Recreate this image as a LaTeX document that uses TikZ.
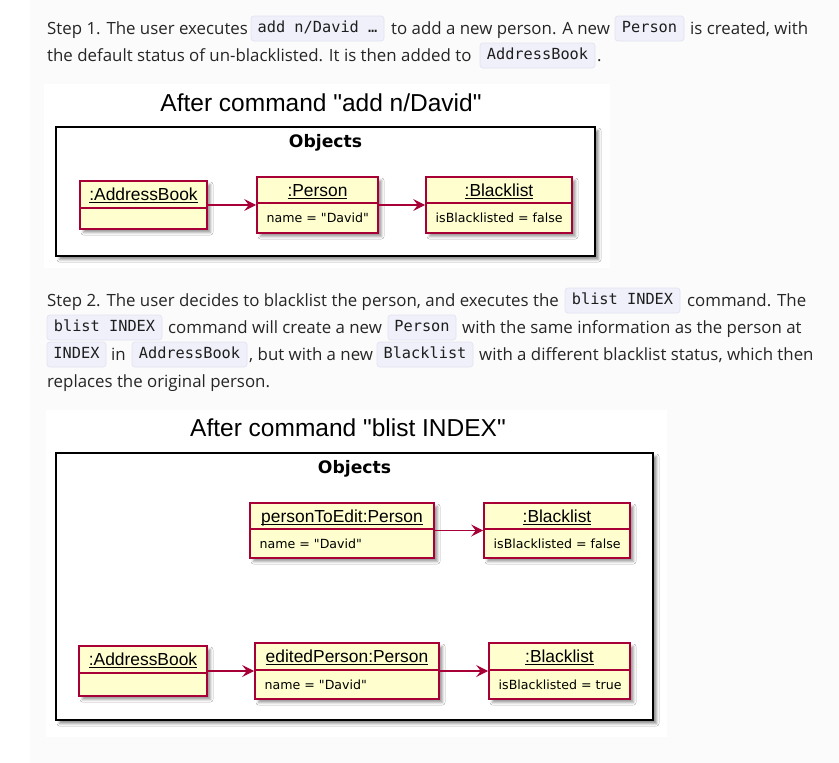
\documentclass[tikz,border=0pt]{standalone}
\usepackage{fontspec}
\setmainfont{Open Sans}
\newfontfamily\codefont{DejaVu Sans Mono}
\newfontfamily\umlfont{Liberation Sans}
\newfontfamily\umlsmall{DejaVu Sans}
\usetikzlibrary{arrows.meta,shadows.blur}
\definecolor{umlfill}{HTML}{FEFECE}
\definecolor{umlline}{HTML}{A80036}
\definecolor{codebg}{HTML}{EFF0FA}
\definecolor{codeborder}{HTML}{E2E4F2}
\definecolor{txt}{HTML}{262626}
\definecolor{codetxt}{HTML}{1E1E1E}
\definecolor{pagebg}{HTML}{FBFBFB}
\newcommand{\umlul}[1]{\setbox0\hbox{#1}\copy0\llap{\rule[-2.2pt]{\wd0}{0.9pt}}}
\newcommand{\umlobj}[8]{%
  \node[umlbox, minimum width={(#4-#2)*1pt}, minimum height={(#5-#3)*1pt}] (#1) at ({(#2+#4)/2},{(#3+#5)/2}) {};
  \draw[umlsep] (#2,#6) -- (#4,#6);
  \node[umlname, anchor=base] (#1n) at ({(#2+#4)/2},{(#3+#6)/2+6.2}) {\umlul{#7}};
  \node[umlfield, anchor=base west] (#1f) at ({#2+9.5},{(#6+#5)/2+4.6}) {#8};
}
\begin{document}
\begin{tikzpicture}[x=1pt,y=-1pt,
  body/.style={font=\fontsize{16.85}{20}\selectfont, text=txt, inner sep=0pt, anchor=base west},
  code/.style={fill=codebg, draw=codeborder, line width=0.7pt, rounded corners=3pt, inner sep=0pt,
    minimum height=25pt, text height=11pt, text depth=3pt, text=codetxt,
    font=\codefont\fontsize{15.3}{18}\selectfont},
  title/.style={font=\umlfont\fontsize{24.5}{28}\selectfont, text=black, inner sep=0pt},
  objects/.style={font=\umlsmall\bfseries\fontsize{17.2}{20}\selectfont, text=black, inner sep=0pt},
  frame/.style={draw=black, line width=1.8pt, fill=white, inner sep=0pt,
    blur shadow={shadow xshift=3.5pt, shadow yshift=-3.5pt, shadow blur radius=2.5pt, shadow opacity=45}},
  umlbox/.style={draw=umlline, line width=1.6pt, fill=umlfill, inner sep=0pt,
    blur shadow={shadow xshift=3.5pt, shadow yshift=-3.5pt, shadow blur radius=2.5pt, shadow opacity=40}},
  umlsep/.style={draw=umlline, line width=1.4pt},
  umlname/.style={font=\umlfont\fontsize{17.4}{20}\selectfont, text=black, inner sep=0pt},
  umlfield/.style={font=\umlsmall\fontsize{12.6}{15}\selectfont, text=black, inner sep=0pt},
  conn/.style={draw=umlline, line width=1.1pt, -{Stealth[length=12pt,width=12pt,inset=4.5pt]}}
]
\useasboundingbox (0,0) rectangle (839,763);
\fill[white] (0,0) rectangle (839,763);
\fill[pagebg] (30,0) rectangle (839,763);

% ---------- Step 1 text ----------
\node[body] (s1a) at (47,34) {Step 1. The user executes};
\node[code, minimum width=133pt] (c1a) at (317.5,28.5) {add n/David …};
\node[body] (s1b) at (391,34) {to add a new person. A new};
\node[code, minimum width=69pt] (c1b) at (649.5,28.5) {Person};
\node[body] (s1c) at (690,34) {is created, with};
\node[body] (s1d) at (47,61) {the default status of un-blacklisted. It is then added to};
\node[code, minimum width=115pt] (c1c) at (537.5,55.5) {AddressBook};
\node[body] (s1e) at (597,61) {.};

% ---------- Diagram 1 ----------
\fill[white] (44,84) rectangle (610,268);
\node[title] (t1) at (321,103) {After command "add n/David"};
\node[frame, minimum width=539pt, minimum height=129pt] (f1) at (325.5,191.5) {};
\node[objects] (o1) at (325.5,143) {Objects};
\umlobj{ab1}{80}{181}{207}{229}{208}{:AddressBook}{}
\umlobj{p1}{257}{177}{378}{233}{203}{:Person}{name = "David"}
\umlobj{b1}{426}{177}{572}{233}{203}{:Blacklist}{isBlacklisted = false}
\draw[conn] (ab1.east) -- (p1.west);
\draw[conn] (p1.east) -- (b1.west);

% ---------- Step 2 text ----------
\node[body] (s2a) at (47,306) {Step 2. The user decides to blacklist the person, and executes the};
\node[code, minimum width=115pt] (c2a) at (622.5,300.5) {blist INDEX};
\node[body] (s2b) at (687,306) {command. The};
\node[code, minimum width=115pt] (c2b) at (104.5,327.5) {blist INDEX};
\node[body] (s2c) at (168,333) {command will create a new};
\node[code, minimum width=68pt] (c2c) at (422,327.5) {Person};
\node[body] (s2d) at (462,333) {with the same information as the person at};
\node[code, minimum width=59pt] (c2d) at (76.5,354.5) {INDEX};
\node[body] (s2e) at (111,360) {in};
\node[code, minimum width=115pt] (c2e) at (189.5,354.5) {AddressBook};
\node[body] (s2f) at (249,360) {, but with a new};
\node[code, minimum width=96pt] (c2f) at (425,354.5) {Blacklist};
\node[body] (s2g) at (479,360) {with a different blacklist status, which then};
\node[body] (s2h) at (47,387) {replaces the original person.};

% ---------- Diagram 2 ----------
\fill[white] (46,410) rectangle (667,737);
\node[title] (t2) at (348,428) {After command "blist INDEX"};
\node[frame, minimum width=597pt, minimum height=267pt] (f2) at (354.5,586.5) {};
\node[objects] (o2) at (354.5,469) {Objects};
\umlobj{pe}{250}{503}{434}{558}{529}{personToEdit:Person}{name = "David"}
\umlobj{b2}{484}{503}{630}{558}{529}{:Blacklist}{isBlacklisted = false}
\umlobj{ab2}{79}{646}{207}{696}{673}{:AddressBook}{}
\umlobj{ep}{255}{643}{439}{699}{670}{editedPerson:Person}{name = "David"}
\umlobj{b3}{489}{643}{630}{699}{670}{:Blacklist}{isBlacklisted = true}
\draw[conn] (pe.east) -- (b2.west);
\draw[conn] (ab2.east) -- (ep.west);
\draw[conn] (ep.east) -- (b3.west);
\end{tikzpicture}
\end{document}
